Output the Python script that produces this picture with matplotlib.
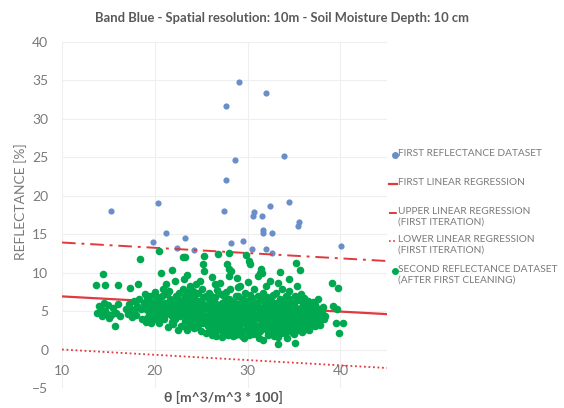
import matplotlib.pyplot as plt
from matplotlib.lines import Line2D

plt.rcParams['font.family'] = ['Lato', 'DejaVu Sans']

# first dataset (outliers removed in the first cleaning), blue
blue_x = [15.3, 20.3, 19.8, 21.2, 22.4, 23.2, 24.2, 27.4, 27.7, 27.7, 28.2, 28.6, 29.1, 29.5, 30.5,
          30.6, 30.7, 31.5, 31.6, 31.7, 32.0, 32.0, 32.4, 32.6, 32.6, 33.9, 34.4, 35.4, 35.5, 40.1]
blue_y = [18.0, 19.0, 14.0, 15.1, 13.2, 14.5, 12.9, 18.0, 22.0, 31.7, 13.8, 24.6, 34.7, 14.1, 13.0,
          17.3, 17.9, 17.4, 15.1, 15.5, 33.3, 13.0, 18.7, 15.1, 12.5, 25.2, 19.1, 16.1, 16.6, 13.5]

# second dataset (after first cleaning), green, (theta, reflectance)
green_pts = [
    (13.8, 4.8), (14.0, 5.6), (14.2, 5.2), (14.3, 4.4), (14.5, 6.1), (14.6, 5.0), (14.8, 4.6),
    (15.0, 5.8), (15.1, 4.1), (15.3, 4.5), (15.5, 5.4), (15.7, 3.1), (15.8, 4.8), (16.0, 5.9),
    (16.2, 4.3), (16.9, 5.2), (17.1, 4.6), (17.2, 5.9), (17.4, 5.3), (17.5, 4.2), (17.7, 6.3),
    (17.8, 5.0), (18.0, 4.5), (18.1, 5.7), (18.3, 6.6), (18.5, 5.2), (18.6, 4.0), (18.8, 6.0),
    (14.4, 9.8), (13.7, 8.4), (14.6, 8.4), (16.0, 8.4), (17.3, 8.0), (18.2, 8.5), (18.4, 11.7),
    (20.5, 12.8), (23.0, 12.0), (23.3, 12.0), (25.3, 12.1), (25.2, 11.1), (26.8, 12.4), (28.0, 12.6),
    (29.8, 12.3), (30.1, 11.5), (30.3, 11.1), (31.4, 10.5), (31.3, 10.0), (35.2, 11.2), (35.6, 10.3),
    (34.4, 9.2), (33.5, 10.1), (27.8, 11.1), (28.0, 10.5), (28.2, 10.2), (20.7, 10.0), (21.9, 10.3),
    (23.5, 9.7), (24.4, 8.5), (24.9, 8.9), (26.2, 9.4), (26.5, 8.5), (28.9, 9.3), (29.2, 8.3),
    (31.1, 9.6), (31.5, 10.0), (32.4, 8.9), (33.3, 8.7), (39.1, 8.7), (39.7, 8.0),
    (19.0, 5.2), (19.1, 6.6), (19.2, 4.1), (18.9, 7.2), (19.3, 5.8), (19.0, 3.6),
    (19.4, 4.8), (19.6, 6.1), (19.7, 5.3), (19.5, 7.0), (19.8, 4.2), (19.6, 3.4),
    (20.0, 5.6), (20.1, 4.5), (20.2, 6.8), (19.9, 6.2), (20.3, 3.8), (20.0, 7.5), (20.2, 5.0),
    (20.4, 6.4), (20.6, 4.9), (20.7, 5.7), (20.5, 3.5), (20.8, 6.9), (20.6, 4.2), (20.9, 7.8),
    (21.0, 5.3), (21.1, 6.1), (21.2, 4.6), (21.0, 3.9), (21.3, 7.2), (21.1, 5.8), (21.4, 2.9), (21.2, 8.5),
    (21.5, 4.8), (21.6, 6.5), (21.7, 5.5), (21.8, 3.6), (21.5, 7.6), (21.9, 4.3), (21.6, 6.0),
    (22.0, 5.1), (22.1, 6.3), (22.2, 4.0), (22.3, 7.0), (22.0, 3.3), (22.4, 5.7), (22.2, 8.9), (22.1, 4.7),
    (22.5, 6.6), (22.6, 5.2), (22.7, 4.4), (22.8, 3.1), (22.6, 7.4), (22.9, 5.9), (22.5, 2.6),
    (23.0, 4.9), (23.1, 6.2), (23.2, 3.7), (23.3, 5.5), (23.0, 7.8), (23.4, 4.3), (23.2, 6.9), (23.1, 9.2),
    (23.5, 5.0), (23.6, 3.2), (23.7, 6.4), (23.8, 4.6), (23.6, 5.8), (23.9, 7.1), (23.5, 2.5), (23.8, 8.2),
    (24.0, 4.1), (24.1, 5.4), (24.2, 6.7), (24.3, 3.5), (24.0, 6.0), (24.4, 4.8), (24.2, 2.8), (24.1, 7.6),
    (24.5, 5.2), (24.6, 3.9), (24.7, 6.3), (24.8, 4.5), (24.5, 2.9), (24.9, 5.8), (24.6, 7.3), (24.8, 3.3),
    (25.0, 4.7), (25.1, 6.0), (25.2, 3.4), (25.3, 5.3), (25.0, 2.4), (25.4, 4.1), (25.2, 6.8), (25.1, 7.9),
    (25.3, 10.2), (25.5, 4.4), (25.6, 5.6), (25.7, 3.0), (25.8, 6.5), (25.5, 2.2), (25.9, 4.9), (25.6, 3.7),
    (25.8, 7.4), (26.0, 5.1), (26.1, 3.5), (26.2, 6.2), (26.3, 4.3), (26.0, 2.7), (26.4, 5.7), (26.2, 1.9),
    (26.1, 7.0), (26.3, 3.1), (26.5, 4.6), (26.6, 5.9), (26.7, 2.5), (26.8, 3.8), (26.5, 6.8), (26.9, 4.2),
    (26.6, 1.8), (26.8, 5.2), (26.7, 7.7), (27.0, 3.3), (27.1, 4.8), (27.2, 6.1), (27.3, 2.2), (27.0, 5.5),
    (27.4, 3.9), (27.2, 1.6), (27.1, 7.2), (27.3, 4.4), (27.0, 8.6), (27.5, 5.0), (27.6, 3.6), (27.7, 2.4),
    (27.8, 6.4), (27.5, 4.2), (27.9, 1.9), (27.6, 5.8), (27.8, 3.0), (27.7, 7.5), (28.0, 4.6), (28.1, 2.8),
    (28.2, 5.4), (28.3, 3.4), (28.0, 6.6), (28.4, 1.7), (28.2, 4.0), (28.1, 7.9), (28.3, 2.2), (28.0, 9.5),
    (28.5, 3.8), (28.6, 5.1), (28.7, 2.5), (28.8, 4.5), (28.5, 6.2), (28.9, 3.1), (28.6, 1.9), (28.8, 5.7),
    (28.7, 7.0), (29.0, 4.2), (29.1, 2.9), (29.2, 5.6), (29.3, 3.5), (29.0, 6.9), (29.4, 1.8), (29.2, 4.8),
    (29.1, 2.3), (29.3, 6.2), (29.0, 8.1), (29.5, 3.9), (29.6, 5.2), (29.7, 2.6), (29.8, 4.5), (29.5, 6.5),
    (29.9, 3.2), (29.6, 1.5), (29.8, 5.9), (29.7, 7.4), (30.0, 4.4), (30.1, 3.0), (30.2, 5.5), (30.3, 2.2),
    (30.0, 6.3), (30.4, 3.7), (30.2, 4.9), (30.1, 1.9), (30.3, 7.1), (30.0, 8.8), (30.5, 3.5), (30.6, 4.7),
    (30.7, 2.7), (30.8, 5.8), (30.5, 6.7), (30.9, 4.1), (30.6, 2.0), (30.8, 3.2), (30.7, 7.8), (31.0, 4.5),
    (31.1, 3.1), (31.2, 5.3), (31.3, 2.4), (31.0, 6.1), (31.4, 3.8), (31.2, 1.5), (31.1, 6.9), (31.3, 4.9),
    (31.5, 3.6), (31.6, 5.0), (31.7, 2.8), (31.8, 4.3), (31.5, 6.4), (31.9, 3.1), (31.6, 1.2), (31.8, 5.6),
    (31.7, 7.3), (32.0, 4.0), (32.1, 2.6), (32.2, 5.2), (32.3, 3.4), (32.0, 6.0), (32.4, 4.6), (32.2, 1.9),
    (32.1, 6.8), (32.3, 2.2), (32.0, 8.2), (32.5, 3.7), (32.6, 5.0), (32.7, 2.4), (32.8, 4.4), (32.5, 6.3),
    (32.9, 3.1), (32.6, 5.7), (32.8, 1.8), (32.7, 7.1), (33.0, 4.2), (33.1, 3.0), (33.2, 5.4), (33.3, 2.5),
    (33.0, 6.1), (33.4, 3.7), (33.2, 4.8), (33.1, 7.4), (33.3, 1.6), (33.3, 0.7), (33.5, 3.4), (33.6, 4.7),
    (33.7, 2.8), (33.8, 5.6), (33.5, 6.6), (33.9, 4.1), (33.6, 2.1), (33.8, 3.5), (33.7, 7.9), (34.0, 4.5),
    (34.1, 3.2), (34.2, 5.2), (34.3, 2.6), (34.0, 6.2), (34.4, 3.8), (34.2, 1.5), (34.1, 7.0), (34.3, 4.9),
    (34.5, 3.6), (34.6, 5.0), (34.7, 2.9), (34.8, 4.3), (34.5, 6.5), (34.9, 3.3), (34.6, 5.7), (34.8, 2.3),
    (34.5, 7.6), (35.1, 0.8), (35.0, 4.1), (35.1, 3.0), (35.2, 5.4), (35.3, 2.6), (35.0, 6.1), (35.4, 3.7),
    (35.2, 4.7), (35.1, 6.9), (35.3, 8.3), (35.5, 3.5), (35.6, 4.6), (35.7, 2.8), (35.8, 5.5), (35.5, 6.4),
    (35.9, 3.9), (35.6, 5.0), (35.8, 2.3), (35.7, 7.2), (36.0, 4.2), (36.1, 3.2), (36.2, 5.3), (36.3, 2.7),
    (36.0, 6.0), (36.4, 3.8), (36.2, 4.7), (36.1, 6.7), (36.5, 3.6), (36.6, 4.9), (36.7, 2.9), (36.8, 5.6),
    (36.5, 6.3), (36.9, 4.3), (36.6, 3.3), (37.0, 4.0), (37.1, 5.2), (37.2, 3.1), (37.3, 4.6), (37.0, 6.2),
    (37.4, 3.6), (37.2, 5.8), (37.5, 4.4), (37.6, 3.4), (37.7, 5.3), (37.8, 4.0), (37.6, 6.5), (38.0, 4.8),
    (38.2, 3.9), (38.1, 5.5), (38.3, 4.3),
    (39.2, 5.7), (39.6, 5.3), (39.5, 3.5), (40.3, 3.4), (39.8, 2.2),
    (22.3, 4.5), (22.7, 5.6), (23.4, 5.9), (23.9, 3.9), (24.3, 5.0), (24.7, 4.1), (25.4, 5.8), (25.8, 3.9),
    (26.2, 4.7), (26.6, 3.3), (26.9, 5.6), (27.3, 3.6), (27.6, 4.5), (27.9, 5.3), (28.4, 3.0), (28.5, 4.8),
    (28.8, 3.6), (29.1, 5.1), (29.4, 4.0), (29.7, 3.4), (30.0, 5.2), (30.3, 4.0), (30.6, 5.4), (30.9, 2.5),
    (31.2, 4.1), (31.5, 5.4), (31.8, 3.7), (32.1, 4.9), (32.4, 2.9), (32.7, 4.0), (33.0, 3.4), (33.3, 5.1),
    (33.6, 3.9), (33.9, 5.0), (34.2, 4.2), (34.5, 2.6), (34.8, 5.2), (35.1, 3.6), (35.4, 4.3), (35.7, 3.3),
    (36.0, 5.1), (36.3, 4.4), (36.6, 2.5), (36.9, 3.6), (37.2, 4.3), (37.5, 5.0), (37.8, 3.2), (38.1, 4.4),
    (26.0, 3.9), (27.0, 2.8), (28.0, 2.0), (29.0, 2.0), (30.0, 2.6), (31.0, 2.0), (32.0, 3.0), (33.0, 2.0),
    (34.0, 2.2), (35.0, 2.0), (25.0, 3.8), (24.0, 3.0), (23.0, 3.0), (22.0, 4.4), (21.0, 4.4), (20.0, 4.0),
    (19.5, 5.8), (21.3, 5.0), (22.8, 6.3), (24.4, 6.2), (26.4, 6.3), (28.3, 6.0), (30.4, 6.1), (32.2, 6.4),
    (34.3, 6.7), (36.3, 5.8), (29.5, 5.5), (31.0, 5.5), (33.5, 5.6), (27.5, 6.9), (25.5, 6.9), (23.5, 7.5),
]
green_x = [p[0] for p in green_pts]
green_y = [p[1] for p in green_pts]

# regression lines (first iteration), end points over the axis range
line_x = [10, 45]
reg_y = [6.9, 4.6]
upper_y = [13.9, 11.5]
lower_y = [0.0, -2.4]

x_ticks = [10, 20, 30, 40]
y_ticks = [-5, 0, 5, 10, 15, 20, 25, 30, 35, 40]

blue = '#6A8FC8'
green = '#00A94F'
red = '#E0393E'
grey = '#595959'
light = '#7A7A7A'

fig = plt.figure(figsize=(5.64, 4.08), dpi=100)
ax = fig.add_axes([0.110, 0.049, 0.576, 0.849])

for v in y_ticks:
    ax.axhline(v, color='#EFEFEF', lw=0.8, zorder=0)
for v in x_ticks:
    ax.axvline(v, color='#EFEFEF', lw=0.8, zorder=0)

ax.scatter(blue_x, blue_y, s=20, color=blue, zorder=3, linewidths=0)
ax.plot(line_x, reg_y, color=red, lw=1.6, zorder=4)
ax.plot(line_x, upper_y, color=red, lw=1.4, dashes=(7, 3, 1.5, 3), zorder=4)
ax.plot(line_x, lower_y, color=red, lw=1.3, dashes=(1, 1.5), zorder=4)
ax.scatter(green_x, green_y, s=30, color=green, zorder=5, linewidths=0)

ax.set_xlim(10, 45)
ax.set_ylim(-5, 40)
ax.set_xticks(x_ticks)
ax.set_yticks(y_ticks)
for s in ax.spines.values():
    s.set_visible(False)
ax.spines['bottom'].set_position(('data', 0))
ax.tick_params(axis='both', length=0, colors=light, labelsize=10)
ax.tick_params(axis='x', pad=11)
ax.tick_params(axis='y', pad=10)

fig.text(0.036, 0.505, 'REFLECTANCE [%]', rotation=90, ha='center', va='center',
         color=light, fontsize=10)
fig.text(0.396, 0.025, 'θ [m^3/m^3 * 100]', ha='center', va='center',
         color=grey, fontsize=10, fontweight='bold')
fig.text(0.5, 0.955, 'Band Blue - Spatial resolution: 10m - Soil Moisture Depth: 10 cm',
         ha='center', va='center', color=grey, fontsize=9.4, fontweight='bold')

# legend, built entry by entry like the Excel one (handle on the first text line)
handles = [
    dict(ls='none', marker='o', ms=4, color=blue),
    dict(color=red, lw=1.6),
    dict(color=red, lw=1.4, dashes=(4, 2)),
    dict(color=red, lw=1.2, dashes=(1, 1.5)),
    dict(ls='none', marker='o', ms=4, color=green),
]
labels = [
    'FIRST REFLECTANCE DATASET',
    'FIRST LINEAR REGRESSION',
    'UPPER LINEAR REGRESSION\n(FIRST ITERATION)',
    'LOWER LINEAR REGRESSION\n(FIRST ITERATION)',
    'SECOND REFLECTANCE DATASET\n(AFTER FIRST CLEANING)',
]
entry_px = [155, 184, 213, 241, 271]
for h, lab, py in zip(handles, labels, entry_px):
    yf = 1 - py / 408
    if h.get('marker'):
        fig.add_artist(Line2D([0.7005], [yf], transform=fig.transFigure, **h))
    else:
        fig.add_artist(Line2D([0.690, 0.704], [yf, yf], transform=fig.transFigure, **h))
    fig.text(0.706, yf + 0.015, lab, ha='left', va='top', fontsize=7.3,
             color=light, linespacing=1.25)

fig.savefig('out.png', dpi=100)
